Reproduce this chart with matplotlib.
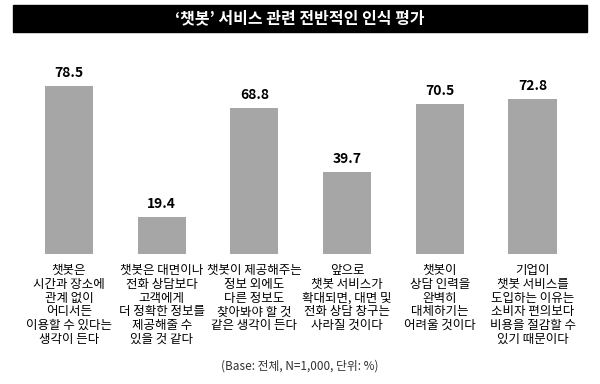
import matplotlib.pyplot as plt
from matplotlib.patches import Rectangle
from matplotlib.transforms import blended_transform_factory

plt.rcParams['font.family'] = ['Noto Sans CJK KR', 'DejaVu Sans']

title = "‘챗봇’ 서비스 관련 전반적인 인식 평가"
labels = [
    "챗봇은\n시간과 장소에\n관계 없이\n어디서든\n이용할 수 있다는\n생각이 든다",
    "챗봇은 대면이나\n전화 상담보다\n고객에게\n더 정확한 정보를\n제공해줄 수\n있을 것 같다",
    "챗봇이 제공해주는\n정보 외에도\n다른 정보도\n찾아봐야 할 것\n같은 생각이 든다",
    "앞으로\n챗봇 서비스가\n확대되면, 대면 및\n전화 상담 창구는\n사라질 것이다",
    "챗봇이\n상담 인력을\n완벽히\n대체하기는\n어려울 것이다",
    "기업이\n챗봇 서비스를\n도입하는 이유는\n소비자 편의보다\n비용을 절감할 수\n있기 때문이다",
]
values = [78.5, 19.4, 68.8, 39.7, 70.5, 72.8]
note = "(Base: 전체, N=1,000, 단위: %)"

W, H = 600, 384
fig = plt.figure(figsize=(6, 3.84), dpi=100)

# black title bar
fig.patches.append(Rectangle((13 / W, 1 - 32 / H), 574 / W, 27 / H,
                             transform=fig.transFigure, color='black'))
fig.text(0.5, 1 - 18.5 / H, title, color='white', fontsize=11.5,
         fontweight='bold', ha='center', va='center')

ax = fig.add_axes([0, 1 - 254 / H, 1, 214 / H])
x = list(range(len(values)))
ax.bar(x, values, width=0.518, color='#a6a6a6')
ax.set_xlim(-0.744, 5.728)
ax.set_ylim(2.7, 99.5)
ax.axis('off')

for i, v in enumerate(values):
    ax.annotate(f"{v}", (i, v), xytext=(0, 9.4), textcoords='offset points',
                ha='center', va='center', fontsize=10, fontweight='bold')

trans = blended_transform_factory(ax.transData, fig.transFigure)
for i, lab in enumerate(labels):
    ax.text(i, 1 - 264 / H, lab, transform=trans, ha='center', va='top',
            fontsize=9, fontweight='medium', linespacing=1.08, clip_on=False)

fig.text(0.5, 1 - 366 / H, note, ha='center', va='center',
         fontsize=8.5, color='#333333')

fig.savefig('out.png', dpi=100)
